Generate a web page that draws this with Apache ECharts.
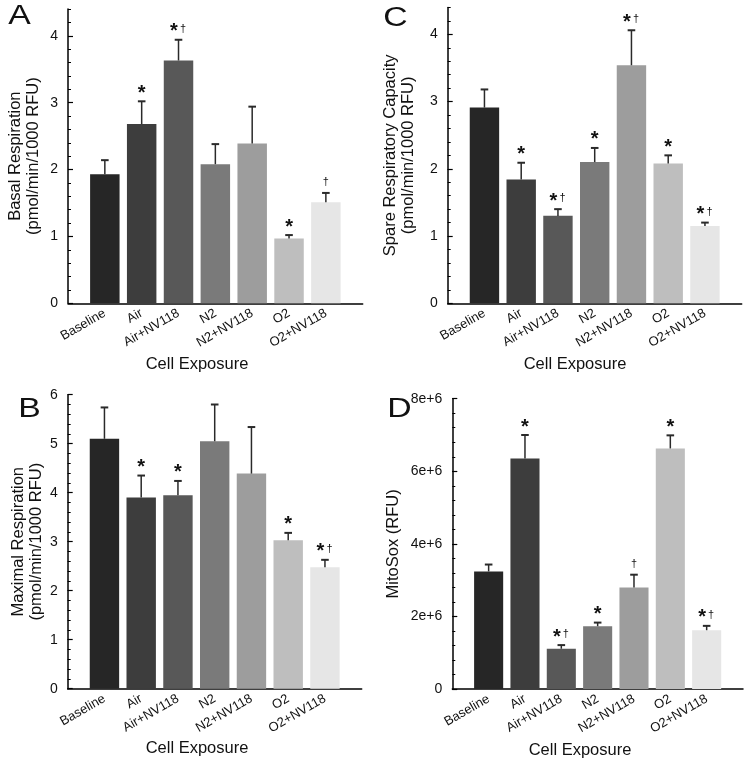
<!DOCTYPE html>
<html>
<head>
<meta charset="utf-8">
<script src="https://cdn.jsdelivr.net/npm/echarts@6/dist/echarts.min.js"></script>
<style>html,body{margin:0;padding:0;background:#fff}#c{width:750px;height:764px}</style>
</head>
<body>
<div id="c"></div>
<script>
// ---- data ----
const categories = ['Baseline', 'Air', 'Air+NV118', 'N2', 'N2+NV118', 'O2', 'O2+NV118'];

const basalMean = [1.93, 2.68, 3.63, 2.08, 2.39, 0.97, 1.51];
const basalSem  = [0.21, 0.34, 0.31, 0.30, 0.55, 0.05, 0.14];
const basalMarks = ['', '*', '*†', '', '', '*', '†'];

const spareMean = [2.91, 1.84, 1.30, 2.10, 3.54, 2.08, 1.15];
const spareSem  = [0.27, 0.25, 0.10, 0.21, 0.52, 0.12, 0.05];
const spareMarks = ['', '*', '*†', '*', '*†', '*', '*†'];

const maxMean = [5.10, 3.90, 3.95, 5.05, 4.39, 3.03, 2.48];
const maxSem  = [0.64, 0.45, 0.29, 0.75, 0.95, 0.15, 0.15];
const maxMarks = ['', '*', '*', '', '', '*', '*†'];

const mitoMean = [3.24e6, 6.35e6, 1.11e6, 1.73e6, 2.80e6, 6.63e6, 1.62e6];
const mitoSem  = [0.19e6, 0.65e6, 0.10e6, 0.10e6, 0.35e6, 0.36e6, 0.12e6];
const mitoMarks = ['', '*', '*†', '*', '†', '*', '*†'];

const basalTicks = [0, 1, 2, 3, 4];
const spareTicks = [0, 1, 2, 3, 4];
const maxTicks = [0, 1, 2, 3, 4, 5, 6];
const mitoTicks = ['0', '2e+6', '4e+6', '6e+6', '8e+6'];

// ---- styles / layout ----
const FONT = 'Liberation Sans, Arial, Helvetica, sans-serif';
const barColors = ['#262626', '#3d3d3d', '#585858', '#7a7a7a', '#9d9d9d', '#bebebe', '#e6e6e6'];
const TXT = '#111';

const panels = [
  { mean: basalMean, sem: basalSem, marks: basalMarks, name: 'Basal Respiration\n(pmol/min/1000 RFU)',
    max: 4.4, major: 1, minor: 0.2, rect: [68, 9, 294.7, 294.3], nameGap: 26, showMax: false,
    fmt: v => String(basalTicks[Math.round(v)]), letter: 'A', lpos: [19.5, 16.5], xname: [197, 364] },
  { mean: spareMean, sem: spareSem, marks: spareMarks, name: 'Spare Respiratory Capacity\n(pmol/min/1000 RFU)',
    max: 4.4, major: 1, minor: 0.2, rect: [447.7, 7.4, 294, 295.9], nameGap: 30, showMax: false,
    fmt: v => String(spareTicks[Math.round(v)]), letter: 'C', lpos: [395.5, 18.5], xname: [575, 364] },
  { mean: maxMean, sem: maxSem, marks: maxMarks, name: 'Maximal Respiration\n(pmol/min/1000 RFU)',
    max: 6, major: 1, minor: 0.2, rect: [67.7, 394.7, 294, 294], nameGap: 22, showMax: true,
    fmt: v => String(maxTicks[Math.round(v)]), letter: 'B', lpos: [29.5, 410], xname: [197, 748] },
  { mean: mitoMean, sem: mitoSem, marks: mitoMarks, name: 'MitoSox (RFU)',
    max: 8e6, major: 2e6, minor: 0.4e6, rect: [452.3, 398.7, 290.7, 290.3], nameGap: 50, showMax: true,
    fmt: v => mitoTicks[Math.round(v / 2e6)], letter: 'D', lpos: [399.5, 410], xname: [580, 750] }
];

const grid = [], xAxis = [], yAxis = [], series = [], graphic = [];

panels.forEach((p, i) => {
  const [l, t, w, h] = p.rect;
  const g = { left: l, top: t, width: w, height: h, outerBoundsMode: 'none', containLabel: false };
  grid[i] = Object.assign({}, g);
  grid[i + 4] = Object.assign({}, g);

  xAxis[i] = {
    type: 'value', gridIndex: i, min: 0, max: 8, interval: 1,
    axisLine: { show: true, lineStyle: { color: '#000', width: 1.5 } },
    axisTick: { show: false }, splitLine: { show: false },
    axisLabel: {
      rotate: 30, margin: 9, fontSize: 13, color: TXT, fontFamily: FONT,
      formatter: v => categories[v - 1] || ''
    }
  };
  xAxis[i + 4] = { type: 'value', gridIndex: i + 4, min: 0, max: 8, show: false };

  // minor ticks axis (with line and name)
  yAxis[i] = {
    type: 'value', gridIndex: i, min: 0, max: p.max, interval: p.minor,
    axisLine: { show: true, lineStyle: { color: '#000', width: 1.5 } },
    axisTick: { show: true, inside: true, length: 3, lineStyle: { color: '#000', width: 1 } },
    axisLabel: { show: false }, splitLine: { show: false },
    name: p.name, nameLocation: 'middle', nameGap: p.nameGap, nameRotate: 90,
    nameTextStyle: { fontSize: 16.5, color: TXT, fontFamily: FONT, lineHeight: 18 }
  };
  // major ticks axis (labels)
  yAxis[i + 4] = {
    type: 'value', gridIndex: i + 4, min: 0, max: p.max, interval: p.major,
    axisLine: { show: false },
    axisTick: { show: true, inside: true, length: 5, lineStyle: { color: '#000', width: 1.2 } },
    splitLine: { show: false },
    axisLabel: { show: true, margin: 10, fontSize: 14, color: TXT, fontFamily: FONT,
      showMaxLabel: p.showMax, formatter: p.fmt }
  };

  series.push({
    type: 'bar', xAxisIndex: i, yAxisIndex: i, barWidth: w * 0.8 / 8, z: 2,
    data: p.mean.map((v, k) => ({ value: [k + 1, v], itemStyle: { color: barColors[k] } }))
  });

  series.push({
    type: 'custom', xAxisIndex: i, yAxisIndex: i, z: 3, clip: false, silent: true,
    encode: { x: 0, y: [1, 2] },
    data: p.mean.map((v, k) => [k + 1, v, v + p.sem[k]]),
    renderItem: (params, api) => {
      const x = api.value(0), m = api.value(1), top = api.value(2);
      const a = api.coord([x, m]), b = api.coord([x, top]);
      const st = { stroke: '#2a2a2a', lineWidth: 1.5 };
      return { type: 'group', children: [
        { type: 'line', shape: { x1: a[0], y1: a[1], x2: b[0], y2: b[1] }, style: st },
        { type: 'line', shape: { x1: b[0] - 3.8, y1: b[1], x2: b[0] + 3.8, y2: b[1] }, style: { stroke: '#2a2a2a', lineWidth: 2 } }
      ] };
    }
  });

  series.push({
    type: 'custom', xAxisIndex: i, yAxisIndex: i, z: 4, clip: false, silent: true,
    encode: { x: 0, y: 1 },
    data: p.mean.map((v, k) => [k + 1, v + p.sem[k]]),
    renderItem: (params, api) => {
      const mk = p.marks[params.dataIndex];
      if (!mk) return null;
      const c = api.coord([api.value(0), api.value(1)]);
      const hasStar = mk.indexOf('*') >= 0, hasDag = mk.indexOf('†') >= 0;
      const kids = [];
      const both = hasStar && hasDag;
      if (hasStar) kids.push({ type: 'text', x: c[0] - (both ? 4.5 : 0), y: c[1] - 8,
        style: { text: '*', fontSize: 20, fontWeight: 'bold', fill: TXT, fontFamily: FONT, align: 'center', verticalAlign: 'middle' } });
      if (hasDag) kids.push({ type: 'text', x: c[0] + (both ? 4.5 : 0), y: c[1] - 11,
        style: { text: '†', fontSize: 11, fill: TXT, fontFamily: FONT, align: 'center', verticalAlign: 'middle' } });
      return { type: 'group', children: kids };
    }
  });

  graphic.push({ type: 'text', x: p.xname[0], y: p.xname[1], silent: true,
    style: { text: 'Cell Exposure', fontSize: 16.5, fill: TXT, fontFamily: FONT, align: 'center', verticalAlign: 'middle' } });
  graphic.push({ type: 'text', x: p.lpos[0], y: p.lpos[1], scaleX: 1.25, silent: true,
    style: { text: p.letter, fontSize: 27, fill: TXT, fontFamily: FONT, align: 'center', verticalAlign: 'middle' } });
});

const chart = echarts.init(document.getElementById('c'), null, { renderer: 'canvas' });
chart.setOption({
  animation: false,
  backgroundColor: '#fff',
  grid, xAxis, yAxis, series, graphic
});
</script>
</body>
</html>
